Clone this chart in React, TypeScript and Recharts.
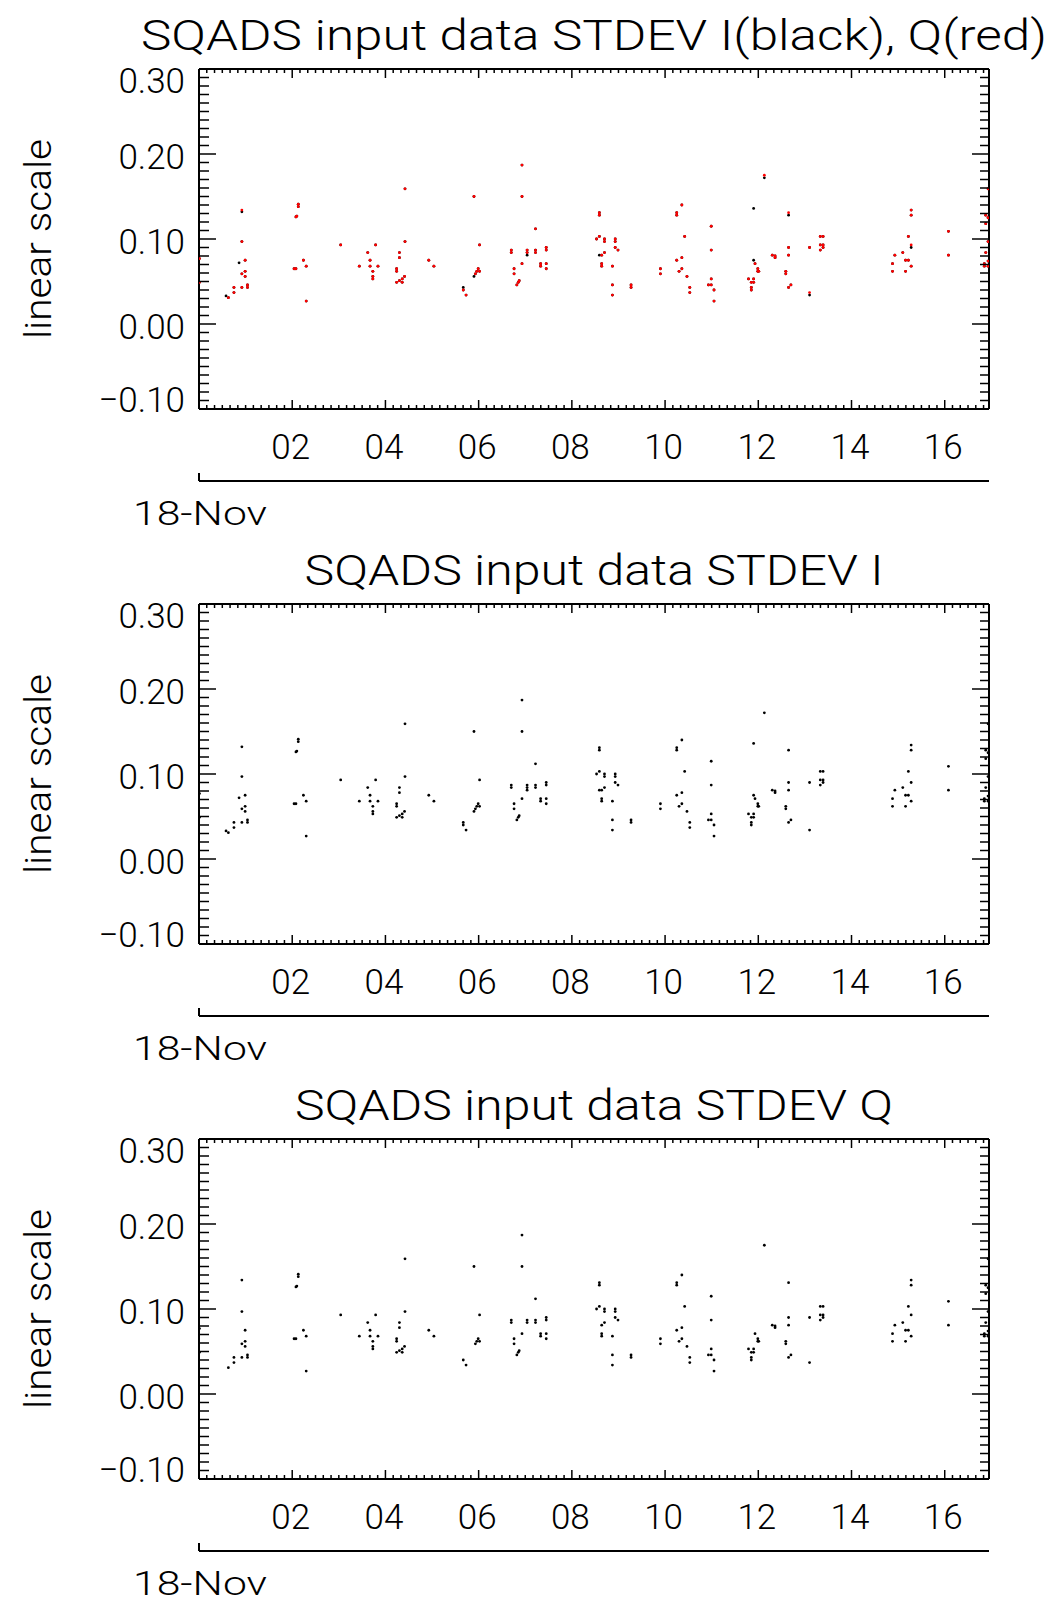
import React from "react";
import { ScatterChart, Scatter, XAxis, YAxis } from "recharts";

// hours after 00:00 on 18-Nov, stdev value
const sharedPoints: [number, number][] = [
  [0.01, 0.077], [0.01, 0.049], [0.63, 0.031], [0.75, 0.043], [0.75, 0.037],
  [0.92, 0.097], [0.92, 0.043], [0.92, 0.059], [0.99, 0.075], [0.99, 0.062],
  [0.99, 0.056], [1.04, 0.046], [1.04, 0.043], [2.04, 0.065], [2.08, 0.065],
  [2.08, 0.126], [2.1, 0.127], [2.13, 0.138], [2.13, 0.141], [2.24, 0.075],
  [2.3, 0.068], [2.3, 0.027], [3.04, 0.093], [3.44, 0.068], [3.62, 0.084],
  [3.67, 0.075], [3.67, 0.068], [3.73, 0.062], [3.73, 0.056], [3.73, 0.053],
  [3.79, 0.093], [3.84, 0.068], [4.24, 0.065], [4.24, 0.062], [4.24, 0.049],
  [4.3, 0.084], [4.3, 0.078], [4.3, 0.051], [4.36, 0.049], [4.36, 0.053],
  [4.41, 0.056], [4.42, 0.097], [4.42, 0.159], [4.93, 0.075], [5.04, 0.068],
  [5.67, 0.04], [5.73, 0.034], [5.9, 0.15], [5.93, 0.059], [5.96, 0.062],
  [5.99, 0.065], [6.02, 0.062], [6.02, 0.093], [6.7, 0.087], [6.7, 0.084],
  [6.76, 0.065], [6.76, 0.059], [6.82, 0.046], [6.85, 0.049], [6.87, 0.051],
  [6.93, 0.187], [6.93, 0.15], [6.93, 0.071], [7.04, 0.087], [7.04, 0.084],
  [7.22, 0.112], [7.22, 0.087], [7.22, 0.084], [7.33, 0.071], [7.33, 0.068],
  [7.45, 0.09], [7.45, 0.087], [7.45, 0.071], [7.45, 0.065], [8.59, 0.131],
  [8.59, 0.128], [8.53, 0.1], [8.59, 0.103], [8.7, 0.1], [8.7, 0.097],
  [8.93, 0.1], [8.93, 0.097], [8.93, 0.09], [8.99, 0.087], [8.64, 0.081],
  [8.7, 0.084], [8.64, 0.071], [8.64, 0.068], [8.87, 0.068], [8.87, 0.046],
  [8.87, 0.034], [9.27, 0.046], [9.27, 0.043], [9.9, 0.065], [9.9, 0.059],
  [10.25, 0.131], [10.25, 0.128], [10.36, 0.14], [10.42, 0.103], [10.25, 0.075],
  [10.36, 0.078], [10.3, 0.062], [10.36, 0.065], [10.47, 0.056], [10.53, 0.043],
  [10.53, 0.037], [10.99, 0.115], [10.99, 0.087], [10.99, 0.053], [10.93, 0.046],
  [10.99, 0.046], [11.05, 0.04], [11.05, 0.027], [11.79, 0.053], [11.85, 0.049],
  [11.85, 0.043], [11.85, 0.04], [11.9, 0.053], [11.9, 0.049], [11.93, 0.071],
  [11.99, 0.065], [11.99, 0.062], [12.01, 0.062], [12.3, 0.081], [12.36, 0.078],
  [12.36, 0.08], [12.65, 0.09], [12.65, 0.081], [12.59, 0.062], [12.59, 0.059],
  [12.65, 0.043], [12.7, 0.046], [13.1, 0.09], [13.33, 0.103], [13.39, 0.103],
  [13.33, 0.093], [13.39, 0.093], [13.39, 0.09], [13.33, 0.087], [15.28, 0.134],
  [15.28, 0.128], [15.22, 0.103], [14.93, 0.081], [15.1, 0.084], [14.88, 0.071],
  [14.88, 0.062], [15.16, 0.075], [15.22, 0.075], [15.28, 0.068], [15.16, 0.062],
  [16.08, 0.109], [16.08, 0.081], [16.93, 0.159], [16.88, 0.128], [16.93, 0.125],
  [16.88, 0.118], [16.93, 0.097], [16.88, 0.084], [16.85, 0.071], [16.85, 0.068],
  [16.93, 0.074], [16.93, 0.068],
];

const iOnlyPoints: [number, number][] = [
  [0.58, 0.033], [0.86, 0.072], [0.92, 0.132], [5.67, 0.043], [5.9, 0.056],
  [7.04, 0.081], [8.59, 0.081], [11.9, 0.136], [11.9, 0.075], [12.13, 0.172],
  [12.65, 0.128], [13.1, 0.034], [15.28, 0.09],
];

const qOnlyPoints: [number, number][] = [
  [0.92, 0.134], [12.13, 0.175], [12.65, 0.131], [13.1, 0.037], [15.28, 0.093],
];

const stdevI = [...sharedPoints, ...iOnlyPoints].map(([t, v]) => ({ t, v }));
const stdevQ = [...sharedPoints, ...qOnlyPoints].map(([t, v]) => ({ t, v }));

const xMajorTicks = [2, 4, 6, 8, 10, 12, 14, 16];
const xTickLabels = ["02", "04", "06", "08", "10", "12", "14", "16"];
const yMajorTicks = [-0.1, 0, 0.1, 0.2, 0.3];
const yTickLabels = ["\u22120.10", "0.00", "0.10", "0.20", "0.30"];
const dateLabel = "18-Nov";

const X_DOMAIN: [number, number] = [0, 16.95];
const Y_DOMAIN: [number, number] = [-0.1, 0.3];
const xMinorTicks = Array.from({ length: 101 }, (_, i) => (i + 1) / 6);
const yMinorTicks = Array.from({ length: 41 }, (_, i) => Math.round(i - 10) / 100);

const W = 1055;
const H = 535;
const PLOT_TOP = 69;
const PLOT_BOTTOM = 409;
const FONT = "Roboto, 'Liberation Sans', sans-serif";
const INK = "#000";

const near = (a: number, b: number) => Math.abs(a - b) < 1e-6;

function LeftTick(props: any) {
  const { x, y, payload } = props;
  const idx = yMajorTicks.findIndex((m) => near(m, payload.value));
  const major = idx >= 0;
  const cy = Math.min(Math.max(y + 2, PLOT_TOP + 11), PLOT_BOTTOM - 10);
  return (
    <g>
      <line x1={x} x2={x + (major ? 17 : 10)} y1={y} y2={y} stroke={INK} strokeWidth={1.5} />
      {major && (
        <text x={x - 14} y={cy + 13} textAnchor="end" fontFamily={FONT} fontWeight={300} fontSize={35} fill={INK}>
          {yTickLabels[idx]}
        </text>
      )}
    </g>
  );
}

function RightTick(props: any) {
  const { x, y, payload } = props;
  const major = yMajorTicks.some((m) => near(m, payload.value));
  return <line x1={x} x2={x - (major ? 17 : 9)} y1={y} y2={y} stroke={INK} strokeWidth={1.5} />;
}

function BottomTick(props: any) {
  const { x, y, payload } = props;
  const idx = xMajorTicks.findIndex((m) => near(m, payload.value));
  const major = idx >= 0;
  return (
    <g>
      <line x1={x} x2={x} y1={y} y2={y - (major ? 9 : 4)} stroke={INK} strokeWidth={1.5} />
      {major && (
        <text x={x - 1.5} y={y + 50} textAnchor="middle" fontFamily={FONT} fontWeight={300} fontSize={35} fill={INK}>
          {xTickLabels[idx]}
        </text>
      )}
    </g>
  );
}

function TopTick(props: any) {
  const { x, y, payload } = props;
  const major = xMajorTicks.some((m) => near(m, payload.value));
  return <line x1={x} x2={x} y1={y} y2={y + (major ? 9 : 4)} stroke={INK} strokeWidth={1.5} />;
}

function DateTick(props: any) {
  const { x, y } = props;
  return (
    <g>
      <line x1={x} x2={x} y1={y} y2={y - 8} stroke={INK} strokeWidth={2} />
      <text x={x + 1} y={y + 44} textAnchor="middle" fontFamily={FONT} fontWeight={300} fontSize={34} fill={INK}
        textLength={134} lengthAdjust="spacingAndGlyphs">
        {dateLabel}
      </text>
    </g>
  );
}

const dot = (color: string) => (p: any) => <circle cx={p.cx} cy={p.cy} r={1.4} fill={color} />;
const noDot = () => <g />;

type Series = { data: { t: number; v: number }[]; color: string };

function Panel({ title, titleWidth, series }: { title: string; titleWidth: number; series: Series[] }) {
  const axisLine = { stroke: INK, strokeWidth: 2 };
  return (
    <div style={{ position: "relative", width: W, height: H }}>
      <ScatterChart width={W} height={H} margin={{ top: PLOT_TOP - 1, right: 65, bottom: 0, left: 79 }}>
        <XAxis
          dataKey="t" type="number" domain={X_DOMAIN} allowDataOverflow ticks={xMinorTicks} interval={0}
          height={72} tickSize={0} tickMargin={0} tickLine={false} axisLine={axisLine} tick={BottomTick}
        />
        <XAxis
          xAxisId="date" dataKey="t" type="number" domain={X_DOMAIN} allowDataOverflow ticks={[0]} interval={0}
          height={54} tickSize={0} tickMargin={0} tickLine={false} axisLine={axisLine} tick={DateTick}
        />
        <XAxis
          xAxisId="top" dataKey="t" orientation="top" type="number" domain={X_DOMAIN} allowDataOverflow
          ticks={xMinorTicks} interval={0} height={1} tickSize={0} tickMargin={0} tickLine={false}
          axisLine={axisLine} tick={TopTick}
        />
        <YAxis
          dataKey="v" type="number" domain={Y_DOMAIN} allowDataOverflow ticks={yMinorTicks} interval={0}
          width={120} tickSize={0} tickMargin={0} tickLine={false} axisLine={axisLine} tick={LeftTick}
        />
        <YAxis
          yAxisId="right" dataKey="v" orientation="right" type="number" domain={Y_DOMAIN} allowDataOverflow
          ticks={yMinorTicks} interval={0} width={1} tickSize={0} tickMargin={0} tickLine={false}
          axisLine={axisLine} tick={RightTick}
        />
        {/* invisible series so the frame axes get a scale */}
        <Scatter data={series[0].data} xAxisId="date" yAxisId="right" shape={noDot} isAnimationActive={false} />
        <Scatter data={series[0].data} xAxisId="top" shape={noDot} isAnimationActive={false} />
        {series.map((s, i) => (
          <Scatter key={i} data={s.data} fill={s.color} shape={dot(s.color)} isAnimationActive={false} />
        ))}
      </ScatterChart>
      <svg width={W} height={H} style={{ position: "absolute", left: 0, top: 0, pointerEvents: "none" }}>
        <text x={594} y={50} textAnchor="middle" fontFamily={FONT} fontWeight={300} fontSize={42} fill={INK}
          textLength={titleWidth} lengthAdjust="spacingAndGlyphs">
          {title}
        </text>
        <text transform="translate(51,239) rotate(-90)" textAnchor="middle" fontFamily={FONT} fontWeight={300}
          fontSize={36} fill={INK} textLength={200} lengthAdjust="spacingAndGlyphs">
          linear scale
        </text>
      </svg>
    </div>
  );
}

export default function App() {
  return (
    <div style={{ position: "absolute", left: 0, top: 0, width: W, height: 1604, overflow: "hidden", background: "#fff" }}>
      <Panel
        title="SQADS input data STDEV I(black), Q(red)"
        titleWidth={906}
        series={[{ data: stdevI, color: "#000" }, { data: stdevQ, color: "#ff0000" }]}
      />
      <Panel title="SQADS input data STDEV I" titleWidth={579} series={[{ data: stdevI, color: "#000" }]} />
      <Panel title="SQADS input data STDEV Q" titleWidth={598} series={[{ data: stdevQ, color: "#000" }]} />
    </div>
  );
}
